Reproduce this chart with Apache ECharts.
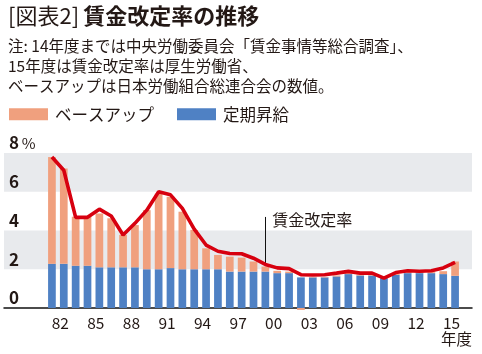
<!DOCTYPE html>
<html>
<head>
<meta charset="utf-8">
<script src="https://cdn.jsdelivr.net/npm/echarts@6/dist/echarts.min.js"></script>
<style>
html,body{margin:0;padding:0;background:#fff;}
#main{width:482px;height:354px;}
</style>
</head>
<body>
<div id="main"></div>
<script>
// 年度 1981-2015
var years = [];
for (var y = 1981; y <= 2015; y++) years.push(String(y));

// 定期昇給 (%)
var teiki = [2.28, 2.28, 2.18, 2.18, 2.10, 2.10, 2.10, 2.10, 2.00, 2.00,
             2.06, 2.00, 2.00, 2.00, 2.00, 1.88, 1.88, 1.88, 1.88, 1.80,
             1.80, 1.58, 1.58, 1.58, 1.63, 1.75, 1.68, 1.68, 1.54, 1.71,
             1.80, 1.80, 1.80, 1.75, 1.66];
// ベースアップ (%)
var baseUp = [5.51, 4.92, 2.53, 2.53, 2.78, 2.53, 1.67, 2.18, 3.05, 3.90,
              3.68, 2.97, 2.03, 1.08, 0.74, 0.77, 0.72, 0.52, 0.26, 0.12,
              0.08, -0.10, 0.02, 0.02, 0.05, 0.05, 0.05, 0.05, 0.00, 0.05,
              0.05, 0.05, 0.05, 0.15, 0.74];
// 賃金改定率 (%)
var kaitei = [7.79, 7.11, 4.68, 4.68, 5.10, 4.75, 3.77, 4.37, 5.05, 6.00,
              5.84, 5.14, 4.07, 3.25, 2.93, 2.81, 2.80, 2.57, 2.25, 2.07,
              2.03, 1.72, 1.70, 1.72, 1.80, 1.89, 1.80, 1.80, 1.54, 1.83,
              1.92, 1.90, 1.92, 2.07, 2.35];
var yTicks = [0, 2, 4, 6, 8];

var FONT = '"Noto Sans CJK JP", "Noto Sans", sans-serif';
var TXT = '#231815';

var chart = echarts.init(document.getElementById('main'));
var option = {
  animation: false,
  textStyle: { fontFamily: FONT },
  title: [{
    left: 3, top: 0,
    text: '{a|[図表2]} {b|賃金改定率の推移}',
    textStyle: {
      rich: {
        a: { fontSize: 22, fontWeight: 'normal', color: TXT, fontFamily: FONT },
        b: { fontSize: 22, fontWeight: 'bold', color: TXT, fontFamily: FONT }
      }
    }
  }, {
    left: 3, top: 31,
    text: '注: 14年度までは中央労働委員会「賃金事情等総合調査」、\n15年度は賃金改定率は厚生労働省、\nベースアップは日本労働組合総連合会の数値。',
    textStyle: { fontSize: 15.5, fontWeight: 'normal', color: TXT, lineHeight: 20, fontFamily: FONT }
  }],
  legend: {
    left: 4, top: 101,
    itemWidth: 39, itemHeight: 12, itemGap: 23,
    icon: 'rect',
    data: ['ベースアップ', '定期昇給'],
    textStyle: { fontSize: 16.5, color: TXT, fontFamily: FONT, padding: [0, 0, 0, 2] }
  },
  grid: [
    { left: 4, right: 10, top: 153, bottom: 46 },
    { left: 46, right: 21, top: 153, bottom: 46 }
  ],
  xAxis: [{
    gridIndex: 0, type: 'value', min: 0, max: 1,
    axisLine: { show: true, lineStyle: { color: '#111', width: 1.5 } },
    axisTick: { show: false }, axisLabel: { show: false }, splitLine: { show: false }
  }, {
    gridIndex: 1, type: 'category', data: years,
    axisLine: { show: false }, axisTick: { show: false },
    axisLabel: {
      interval: function (i, v) { return (Number(v) - 1982) % 3 === 0; },
      formatter: function (v) { return v.slice(2); },
      fontSize: 15.5, color: TXT, margin: 7, padding: [0, 7, 0, 0], fontFamily: FONT
    }
  }],
  yAxis: [{
    gridIndex: 0, type: 'value', min: yTicks[0], max: yTicks[yTicks.length - 1], interval: 2,
    axisLine: { show: false }, axisTick: { show: false }, splitLine: { show: false },
    splitArea: { show: true, areaStyle: { color: ['rgba(255,255,255,0)', '#e8eaed'] } },
    axisLabel: {
      inside: true, margin: 5, verticalAlign: 'bottom', lineHeight: 20,
      formatter: function (v) { return v === 8 ? '{n|8} {p|%}' : '{n|' + v + '}'; },
      rich: {
        n: { fontSize: 17, fontWeight: 'bold', color: TXT, fontFamily: FONT, lineHeight: 20 },
        p: { fontSize: 15, color: TXT, fontFamily: FONT, lineHeight: 20 }
      }
    }
  }, {
    gridIndex: 1, type: 'value', min: 0, max: 8, show: false
  }],
  graphic: [{
    type: 'text', right: 10, top: 331,
    style: { text: '年度', fontSize: 15.5, fill: TXT, fontFamily: FONT }
  }],
  series: [{
    name: '定期昇給', type: 'bar', xAxisIndex: 1, yAxisIndex: 1,
    stack: 'w', barWidth: '65%', data: teiki,
    itemStyle: { color: '#4f81c4' }
  }, {
    name: 'ベースアップ', type: 'bar', xAxisIndex: 1, yAxisIndex: 1,
    stack: 'w', barWidth: '65%', data: baseUp, clip: false,
    itemStyle: { color: '#f0a07e' }
  }, {
    name: '賃金改定率', type: 'line', xAxisIndex: 1, yAxisIndex: 1,
    data: kaitei, showSymbol: false, symbol: 'none', z: 5,
    lineStyle: { color: '#d7000f', width: 3.6 },
    markLine: {
      silent: true, symbol: 'none',
      lineStyle: { color: '#111', width: 1, type: 'solid' },
      label: { show: false },
      data: [[{ coord: ['1999', 2.25] }, { coord: ['1999', 4.7] }]]
    },
    markPoint: {
      silent: true, symbol: 'circle', symbolSize: 0,
      label: {
        show: true, position: 'right', distance: 7,
        formatter: '賃金改定率', fontSize: 16, color: TXT, fontFamily: FONT
      },
      data: [{ coord: ['1999', 4.55] }]
    }
  }]
};
chart.setOption(option);
</script>
</body>
</html>
